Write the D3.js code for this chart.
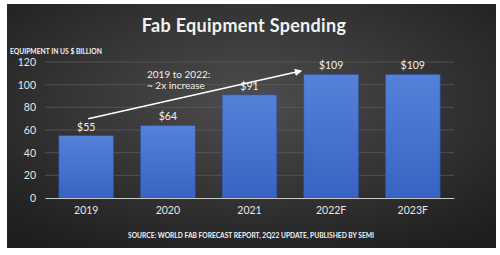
<!DOCTYPE html>
<html>
<head>
<meta charset="utf-8">
<script src="https://cdn.jsdelivr.net/npm/d3@7"></script>
<style>
  body { margin: 0; background: #fff; }
  text { font-family: Lato, "Open Sans", sans-serif; }
</style>
</head>
<body>
<div id="chart"></div>
<script>
// values
var years = ['2019', '2020', '2021', '2022F', '2023F'];
var spend = [55, 64, 91, 109, 109];
var valueLabels = ['$55', '$64', '$91', '$109', '$109'];
var yTicks = [0, 20, 40, 60, 80, 100, 120];

var width = 500, height = 255;
var margin = {top: 62, right: 46, bottom: 57, left: 45};

var svg = d3.select('#chart').append('svg')
  .attr('width', width)
  .attr('height', height);

var defs = svg.append('defs');
var bg = defs.append('radialGradient').attr('id', 'bg')
  .attr('cx', '50%').attr('cy', '40%').attr('r', '70%');
bg.append('stop').attr('offset', '0%').attr('stop-color', '#4d4d4d');
bg.append('stop').attr('offset', '100%').attr('stop-color', '#1f1f1f');

var barGrad = defs.append('linearGradient').attr('id', 'bar')
  .attr('x1', 0).attr('y1', 0).attr('x2', 0).attr('y2', 1);
barGrad.append('stop').attr('offset', '0%').attr('stop-color', '#5581da');
barGrad.append('stop').attr('offset', '100%').attr('stop-color', '#3963c2');

var marker = defs.append('marker').attr('id', 'arrow')
  .attr('viewBox', '0 0 10 10').attr('refX', 8).attr('refY', 5)
  .attr('markerWidth', 5).attr('markerHeight', 5)
  .attr('orient', 'auto');
marker.append('path').attr('d', 'M0,0L10,5L0,10z').attr('fill', '#fff');

// dark panel
svg.append('rect')
  .attr('x', 7).attr('y', 4)
  .attr('width', 489).attr('height', 244)
  .attr('fill', 'url(#bg)');

var x = d3.scaleBand()
  .domain(years)
  .range([margin.left, width - margin.right])
  .paddingInner(0.33)
  .paddingOuter(0.17);

var y = d3.scaleLinear()
  .domain([0, 120])
  .range([height - margin.bottom, margin.top]);

// grid
svg.append('g')
  .selectAll('line')
  .data(yTicks.slice(1))
  .enter()
  .append('line')
  .attr('x1', margin.left)
  .attr('x2', width - margin.right)
  .attr('y1', function(d) { return y(d); })
  .attr('y2', function(d) { return y(d); })
  .attr('stroke', '#5f5f5f')
  .attr('stroke-width', 0.7);

// y axis labels
var yAxis = svg.append('g')
  .attr('transform', 'translate(' + margin.left + ',0)')
  .call(d3.axisLeft(y).tickValues(yTicks).tickSize(0).tickPadding(9));
yAxis.select('.domain').remove();
yAxis.selectAll('text')
  .attr('fill', '#e6e6e6')
  .style('font-family', 'Lato, sans-serif')
  .style('font-size', '10.5px');

// bars
svg.append('g')
  .selectAll('rect')
  .data(spend)
  .enter()
  .append('rect')
  .attr('x', function(d, i) { return x(years[i]); })
  .attr('y', function(d) { return y(d); })
  .attr('width', x.bandwidth())
  .attr('height', function(d) { return y(0) - y(d); })
  .attr('fill', 'url(#bar)')
  .attr('stroke', '#2c4f9c')
  .attr('stroke-width', 0.6);

// value labels
svg.append('g')
  .selectAll('text')
  .data(spend)
  .enter()
  .append('text')
  .attr('x', function(d, i) { return x(years[i]) + x.bandwidth() / 2; })
  .attr('y', function(d) { return y(d) - 5; })
  .attr('text-anchor', 'middle')
  .attr('fill', '#f0f0f0')
  .style('font-size', '10.5px')
  .text(function(d, i) { return valueLabels[i]; });

// baseline + x labels
var xAxis = svg.append('g')
  .attr('transform', 'translate(0,' + y(0) + ')')
  .call(d3.axisBottom(x).tickSize(0).tickPadding(9));
xAxis.select('.domain')
  .attr('stroke', '#c8c8c8')
  .attr('stroke-width', 1);
xAxis.selectAll('text')
  .attr('fill', '#e6e6e6')
  .style('font-family', 'Lato, sans-serif')
  .style('font-size', '10.5px');

// title
svg.append('text')
  .attr('x', 244).attr('y', 32)
  .attr('text-anchor', 'middle')
  .attr('fill', '#f2f2f2')
  .style('font-size', '18px')
  .style('font-weight', 'bold')
  .style('letter-spacing', '0.3px')
  .text('Fab Equipment Spending');

// y axis title
svg.append('text')
  .attr('x', 10).attr('y', 54)
  .attr('fill', '#f2f2f2')
  .style('font-size', '6.5px')
  .style('font-weight', 'bold')
  .attr('textLength', 92)
  .attr('lengthAdjust', 'spacingAndGlyphs')
  .text('EQUIPMENT IN US $ BILLION');

// annotation arrow from 2019 toward 2022
svg.append('line')
  .attr('x1', x('2019') + x.bandwidth() / 2 + 2)
  .attr('y1', y(70))
  .attr('x2', x('2022F') - 3)
  .attr('y2', y(112))
  .attr('stroke', '#fff')
  .attr('stroke-width', 1.5)
  .attr('marker-end', 'url(#arrow)');

var note = svg.append('text')
  .attr('fill', '#f0f0f0')
  .style('font-size', '10px');
note.append('tspan').attr('x', 147).attr('y', 78).text('2019 to 2022:');
note.append('tspan').attr('x', 147).attr('y', 89).text('~ 2x increase');

// source
svg.append('text')
  .attr('x', 128).attr('y', 238)
  .attr('fill', '#f2f2f2')
  .style('font-size', '6.8px')
  .style('font-weight', 'bold')
  .attr('textLength', 246)
  .attr('lengthAdjust', 'spacingAndGlyphs')
  .text('SOURCE: WORLD FAB FORECAST REPORT, 2Q22 UPDATE, PUBLISHED BY SEMI');
</script>
</body>
</html>
